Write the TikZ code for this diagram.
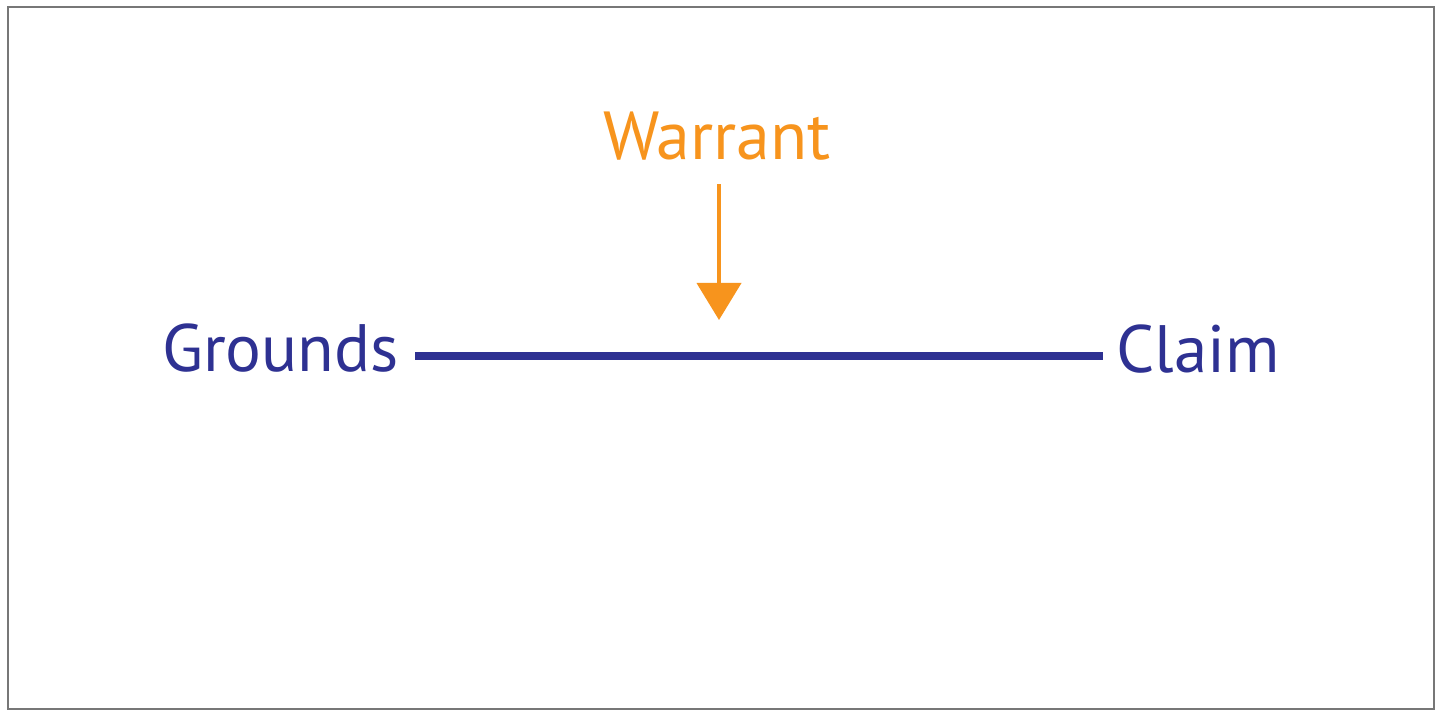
\documentclass[tikz,border=0pt]{standalone}
\usepackage{fontspec}
\setmainfont{PT Sans}
\usetikzlibrary{arrows.meta}
\definecolor{tblue}{HTML}{2E3192}
\definecolor{torange}{HTML}{F7941D}
\definecolor{tframe}{HTML}{777777}
\tikzset{
  lbl/.style={inner sep=0pt, font=\fontsize{67}{72}\selectfont},
  bluelbl/.style={lbl, text=tblue},
  orangelbl/.style={lbl, text=torange, font=\fontsize{68}{74}\selectfont},
  mainline/.style={draw=tblue, line width=8pt},
  warrow/.style={draw=torange, line width=4pt, -{Triangle[width=44pt,length=37pt]}}
}
\begin{document}
\begin{tikzpicture}[x=1pt,y=-1pt]
\useasboundingbox (0,0) rectangle (1441,711);
\fill[white] (0,0) rectangle (1441,711);
\draw[tframe, line width=2.8pt] (8,7) rectangle (1434,709);
\node[bluelbl, anchor=base east] (g) at (399,371) {Grounds};
\node[bluelbl, anchor=base west] (c) at (1116,373) {Claim};
\node[orangelbl, anchor=base] (w) at (717,160) {Warrant};
\coordinate (m) at (719,356);
\coordinate (tip) at (719,320);
\draw[mainline] ([xshift=16pt]g.east |- m) -- ([xshift=-13pt]c.west |- m);
\draw[warrow] ([yshift=-23pt]w.south -| tip) -- (tip);
\end{tikzpicture}
\end{document}
